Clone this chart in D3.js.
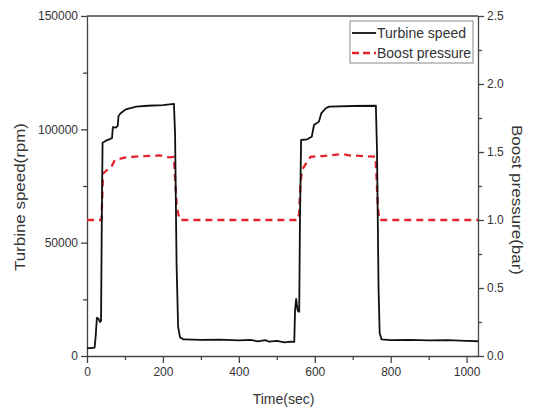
<!DOCTYPE html>
<html>
<head>
<meta charset="utf-8">
<script src="https://cdn.jsdelivr.net/npm/d3@7"></script>
<style>
  body { margin: 0; background: #fff; }
  svg text { font-family: "Liberation Sans", Arial, sans-serif; fill: #333; }
  .axis path, .axis line { stroke: #444; stroke-width: 1.3; }
</style>
</head>
<body>
<svg id="chart" width="534" height="411"></svg>
<script>
// turbine speed trace (sec, rpm)
var speedTime = [0, 10, 20, 23, 26, 30, 34, 37, 39, 41, 50, 60, 66, 68, 76, 81, 83, 88, 102, 130, 160, 200, 229,
  232, 236, 240, 245, 255, 300, 350, 400, 430, 450, 470, 480, 500, 520, 535, 546,
  548, 551, 555, 559, 561, 564, 580, 592, 598, 611, 617, 629, 638, 700, 761,
  764, 768, 771, 776, 800, 850, 900, 950, 1000, 1030];
var speedRpm = [3500, 3500, 3700, 9000, 16800, 16500, 15000, 15500, 60000, 94100, 95000, 95700, 96200, 101000, 100800, 101500, 105900, 107000, 108800, 110000, 110400, 110700, 111200,
  98000, 40000, 13000, 8200, 7300, 7100, 7200, 6900, 7100, 6500, 7000, 6300, 6700, 6000, 6300, 6200,
  20000, 25200, 20000, 19500, 60000, 95300, 95600, 96700, 101900, 103400, 107000, 109300, 110000, 110300, 110400,
  90000, 30000, 10000, 7300, 7000, 7100, 6900, 7000, 6700, 6500];

// boost pressure trace (sec, bar)
var boostTime = [0, 38, 40, 42, 50, 60, 66, 73, 102, 148, 190, 218, 229, 232, 236, 240, 245,
  555, 559, 562, 566, 569, 578, 589, 620, 674, 690, 760, 763, 766, 770, 1030];
var boostBar = [1.0, 1.0, 1.15, 1.34, 1.36, 1.39, 1.40, 1.44, 1.46, 1.47, 1.475, 1.46, 1.465, 1.3, 1.12, 1.05, 1.0,
  1.0, 1.05, 1.25, 1.36, 1.38, 1.42, 1.465, 1.47, 1.485, 1.475, 1.466, 1.3, 1.1, 1.0, 1.0];

var xTicks = [0, 200, 400, 600, 800, 1000];
var speedTicks = [0, 50000, 100000, 150000];
var boostTicks = [0, 0.5, 1.0, 1.5, 2.0, 2.5];
var seriesNames = ["Turbine speed", "Boost pressure"];

var svg = d3.select("#chart");
var m = {left: 87, right: 478, top: 16, bottom: 356};

var x = d3.scaleLinear().domain([0, 1030]).range([m.left, m.right]);
var yL = d3.scaleLinear().domain([0, 150000]).range([m.bottom, m.top]);
var yR = d3.scaleLinear().domain([0, 2.5]).range([m.bottom, m.top]);

// minor ticks first, then major axes on top
function minor(axis, values, tr) {
  svg.append("g").attr("class", "axis").attr("transform", tr)
    .call(axis.tickValues(values).tickSize(4).tickFormat(""))
    .select(".domain").remove();
}
minor(d3.axisBottom(x), d3.range(100, 1030, 200), "translate(0," + m.bottom + ")");
minor(d3.axisLeft(yL), d3.range(25000, 150000, 50000), "translate(" + m.left + ",0)");
minor(d3.axisRight(yR), d3.range(0.25, 2.5, 0.5), "translate(" + m.right + ",0)");

svg.append("g").attr("class", "axis").attr("transform", "translate(0," + m.bottom + ")")
  .call(d3.axisBottom(x).tickValues(xTicks).tickSize(7).tickPadding(4).tickSizeOuter(0).tickFormat(d3.format("d")));
svg.append("g").attr("class", "axis").attr("transform", "translate(" + m.left + ",0)")
  .call(d3.axisLeft(yL).tickValues(speedTicks).tickSize(6).tickPadding(3).tickSizeOuter(0).tickFormat(d3.format("d")));
svg.append("g").attr("class", "axis").attr("transform", "translate(" + m.right + ",0)")
  .call(d3.axisRight(yR).tickValues(boostTicks).tickSize(6).tickPadding(3).tickSizeOuter(0).tickFormat(d3.format(".1f")));
svg.selectAll(".axis text").style("font-size", "12px");

// top frame line
svg.append("line")
  .attr("x1", m.left).attr("x2", m.right).attr("y1", m.top).attr("y2", m.top)
  .attr("stroke", "#444").attr("stroke-width", 1.3);

var lineSpeed = d3.line().x(function(d, i) { return x(speedTime[i]); }).y(function(d) { return yL(d); });
var lineBoost = d3.line().x(function(d, i) { return x(boostTime[i]); }).y(function(d) { return yR(d); });

svg.append("path").datum(boostBar).attr("d", lineBoost)
  .attr("fill", "none").attr("stroke", "#e3262e").attr("stroke-width", 2.3)
  .attr("stroke-dasharray", "7,5");
svg.append("path").datum(speedRpm).attr("d", lineSpeed)
  .attr("fill", "none").attr("stroke", "#111").attr("stroke-width", 1.8)
  .attr("stroke-linejoin", "round");

// axis titles
svg.append("text").attr("x", (m.left + m.right) / 2 + 1).attr("y", 404)
  .attr("text-anchor", "middle").style("font-size", "14px").text("Time(sec)");
svg.append("text").attr("transform", "translate(25,197) rotate(-90)")
  .attr("text-anchor", "middle").style("font-size", "14px")
  .attr("textLength", 148).attr("lengthAdjust", "spacingAndGlyphs").text("Turbine speed(rpm)");
svg.append("text").attr("transform", "translate(512,200) rotate(90)")
  .attr("text-anchor", "middle").style("font-size", "14px")
  .attr("textLength", 150).attr("lengthAdjust", "spacingAndGlyphs").text("Boost pressure(bar)");

// legend
var leg = svg.append("g");
leg.append("rect").attr("x", 350).attr("y", 21).attr("width", 123).attr("height", 42)
  .attr("fill", "#fff").attr("stroke", "#888").attr("stroke-width", 1);
seriesNames.forEach(function(name, i) {
  var yy = 33 + i * 20;
  leg.append("line").attr("x1", 352).attr("x2", 376).attr("y1", yy).attr("y2", yy)
    .attr("stroke", i ? "#e3262e" : "#111").attr("stroke-width", i ? 2.3 : 1.8)
    .attr("stroke-dasharray", i ? "7,4" : null);
  leg.append("text").attr("x", 377).attr("y", yy + 5).style("font-size", "14px").text(name);
});
</script>
</body>
</html>
